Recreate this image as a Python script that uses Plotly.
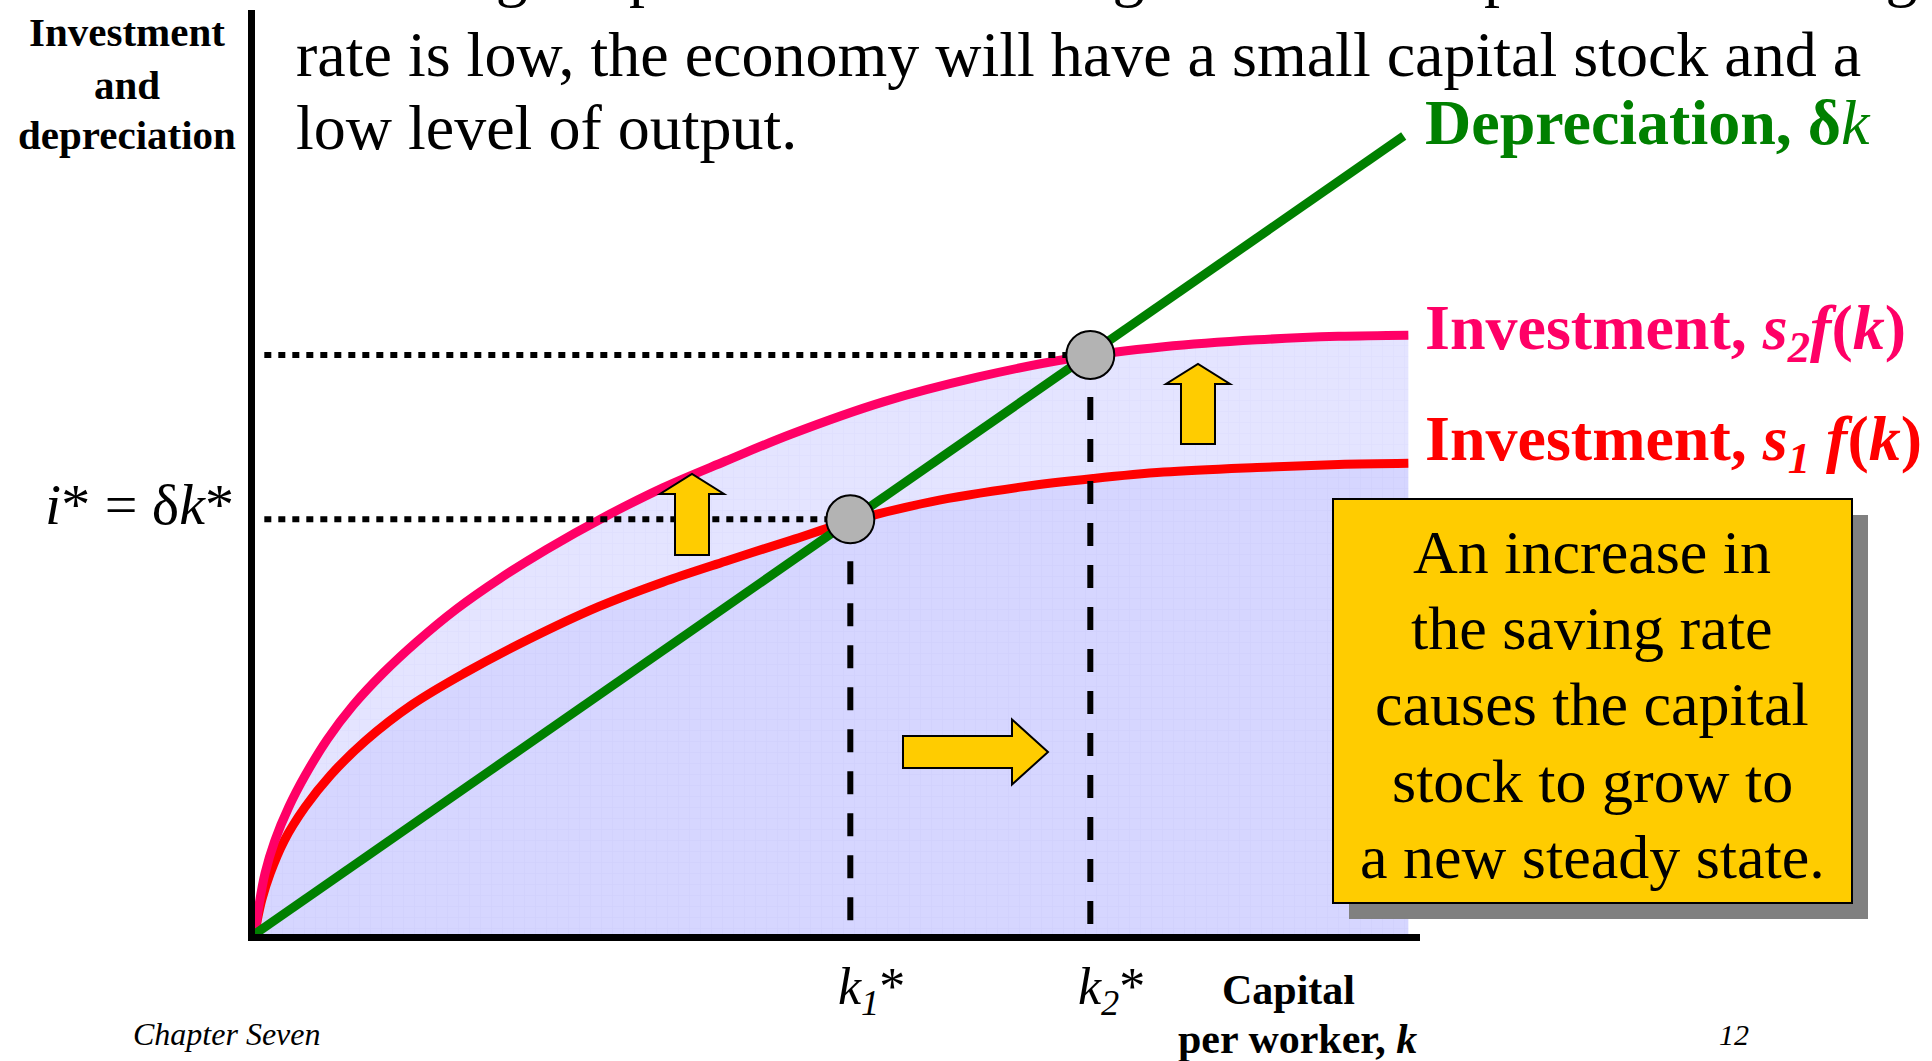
"""
Solow model slide: an increase in the saving rate raises the steady state
capital stock from k1* to k2*.
"""

import plotly.graph_objects as go

W, H = 1932, 1061
SERIF = "Liberation Serif"

# investment curves (axis units, k along x)
k_s1 = [0, 0.02, 0.06, 0.13, 0.25, 0.43, 0.65, 0.95, 1.35, 1.8, 2.35, 2.95, 3.5, 4.04, 4.6, 5.1, 5.8, 6.6, 7.2, 7.8, 8.6, 9.3, 9.9]
inv_s1 = [0, 0.12, 0.30, 0.52, 0.80, 1.09, 1.365, 1.66, 1.97, 2.24, 2.53, 2.81, 3.02, 3.20, 3.38, 3.54, 3.71, 3.84, 3.91, 3.965, 4.005, 4.03, 4.04]

k_s2 = [0, 0.03, 0.086, 0.17, 0.29, 0.43, 0.62, 0.84, 1.10, 1.39, 1.73, 2.10, 2.50, 3.0, 3.5, 4.04, 4.6, 5.4, 6.2, 7.0, 7.8, 8.6, 9.3, 9.9]
inv_s2 = [0, 0.22, 0.52, 0.80, 1.09, 1.36, 1.67, 1.96, 2.24, 2.51, 2.79, 3.05, 3.30, 3.58, 3.83, 4.06, 4.29, 4.57, 4.78, 4.94, 5.04, 5.10, 5.13, 5.14]

# depreciation line
k_dep = [0, 9.86]
dep = [0, 6.85]

# steady states
k_star = [5.11, 7.17]
i_star = [3.56, 4.97]
k_star_labels = ["<i>k<sub>1</sub></i>*", "<i>k<sub>2</sub></i>*"]

title_lines = [
    "a large capital stock and a high level of output. If the saving",
    "rate is low, the economy will have a small capital stock and a",
    "low level of output.",
]
box_lines = [
    "An increase in",
    "the saving rate",
    "causes the capital",
    "stock to grow to",
    "a new steady state.",
]


# pixel -> paper helpers for the slide decorations
def px(x):
    return x / W


def py(y):
    return 1 - y / H


def add_text(fig, x, base, text, size, color="black", anchor="left"):
    # base is the baseline in pixels, Liberation Serif ascent ~0.891 em
    fig.add_annotation(
        x=px(x), y=py(base - 0.891 * size),
        xref="paper", yref="paper",
        text=text, showarrow=False,
        xanchor=anchor, yanchor="top",
        borderpad=0, borderwidth=0,
        font=dict(family=SERIF, size=size, color=color),
    )


def block_arrow(fig, tail, tip, shaft, head, head_len):
    # yellow block arrow from tail to tip, pixel coordinates
    dx, dy = tip[0] - tail[0], tip[1] - tail[1]
    length = (dx ** 2 + dy ** 2) ** 0.5
    ux, uy = dx / length, dy / length
    nx, ny = -uy, ux
    neck = (tip[0] - ux * head_len, tip[1] - uy * head_len)
    pts = [
        (tail[0] + nx * shaft / 2, tail[1] + ny * shaft / 2),
        (neck[0] + nx * shaft / 2, neck[1] + ny * shaft / 2),
        (neck[0] + nx * head / 2, neck[1] + ny * head / 2),
        tip,
        (neck[0] - nx * head / 2, neck[1] - ny * head / 2),
        (neck[0] - nx * shaft / 2, neck[1] - ny * shaft / 2),
        (tail[0] - nx * shaft / 2, tail[1] - ny * shaft / 2),
    ]
    path = "M " + " L ".join(f"{px(a):.5f},{py(b):.5f}" for a, b in pts) + " Z"
    fig.add_shape(
        type="path", path=path, xref="paper", yref="paper",
        fillcolor="#ffcc00", line=dict(color="black", width=2), layer="above",
    )


fig = go.Figure()

# shaded areas under the investment curves
fig.add_trace(go.Scatter(
    x=k_s1, y=inv_s1, mode="lines", fill="tozeroy",
    line=dict(width=0, shape="spline"),
    fillcolor="#d6d6ff",
    fillpattern=dict(shape="+", size=11, solidity=0.1, fgcolor="#c8c8f8", bgcolor="#d6d6ff"),
    hoverinfo="skip",
))
fig.add_trace(go.Scatter(
    x=k_s2, y=inv_s2, mode="lines", fill="tonexty",
    line=dict(width=0, shape="spline"),
    fillcolor="#e4e4ff",
    fillpattern=dict(shape="+", size=11, solidity=0.1, fgcolor="#d6d6fb", bgcolor="#e4e4ff"),
    hoverinfo="skip",
))

# curves
fig.add_trace(go.Scatter(x=k_s1, y=inv_s1, mode="lines",
                         line=dict(color="#ff0000", width=9, shape="spline")))
fig.add_trace(go.Scatter(x=k_s2, y=inv_s2, mode="lines",
                         line=dict(color="#ff0066", width=9, shape="spline")))
fig.add_trace(go.Scatter(x=k_dep, y=dep, mode="lines", line=dict(color="#008000", width=9)))

# guide lines to the axes
for k, i in zip(k_star, i_star):
    fig.add_trace(go.Scatter(
        x=[0.08, k], y=[i, i], mode="lines",
        line=dict(color="black", width=6, dash="7px,7px"),
    ))
    fig.add_trace(go.Scatter(
        x=[k, k], y=[i, 0], mode="lines",
        line=dict(color="black", width=6, dash="23px,19px"),
    ))

# steady state points
fig.add_trace(go.Scatter(
    x=k_star, y=i_star, mode="markers",
    marker=dict(size=48, color="#b3b3b3", line=dict(color="black", width=2)),
))

# arrows
block_arrow(fig, (692, 555), (692, 474), 34, 64, 20)
block_arrow(fig, (1198, 444), (1198, 364), 34, 64, 20)
block_arrow(fig, (903, 752), (1048, 752), 32, 65, 36)

# callout box with shadow
fig.add_shape(type="rect", xref="paper", yref="paper",
              x0=px(1349), x1=px(1868), y0=py(515), y1=py(919),
              fillcolor="#808080", line=dict(width=0), layer="above")
fig.add_shape(type="rect", xref="paper", yref="paper",
              x0=px(1333), x1=px(1852), y0=py(499), y1=py(903),
              fillcolor="#ffcc00", line=dict(color="black", width=2), layer="above")
for n, line in enumerate(box_lines):
    add_text(fig, 1592, 573 + 76.3 * n, line, 62, anchor="center")

# slide text, first line is cut by the top edge
add_text(fig, 385, -6, title_lines[0], 64)
add_text(fig, 296, 76, title_lines[1], 64)
add_text(fig, 296, 149, title_lines[2], 64)

add_text(fig, 127, 46, "<b>Investment</b>", 41, anchor="center")
add_text(fig, 127, 99, "<b>and</b>", 41, anchor="center")
add_text(fig, 127, 149, "<b>depreciation</b>", 41, anchor="center")

add_text(fig, 234, 524, "<i>i</i>* = δ<i>k</i>*", 58, anchor="right")

add_text(fig, 1425, 144, "<b>Depreciation, δ</b><i>k</i>", 64, color="#008000")
add_text(fig, 1425, 349, "<b>Investment, <i>s<sub>2</sub>f</i>(<i>k</i>)</b>", 64, color="#ff0066")
add_text(fig, 1425, 460, "<b>Investment, <i>s<sub>1</sub> f</i>(<i>k</i>)</b>", 64, color="#ff0000")

for k, label in zip(k_star, k_star_labels):
    fig.add_annotation(
        x=k, y=py(1004 - 0.891 * 52), xref="x", yref="paper",
        text=label, showarrow=False, xanchor="left", yanchor="top", xshift=-12,
        borderpad=0, borderwidth=0,
        font=dict(family=SERIF, size=52, color="black"),
    )

add_text(fig, 1288, 1004, "<b>Capital</b>", 42, anchor="center")
add_text(fig, 1297, 1053, "<b>per worker, <i>k</i></b>", 42, anchor="center")

add_text(fig, 133, 1045, "<i>Chapter Seven</i>", 32)
add_text(fig, 1719, 1045, "<i>12</i>", 30)

fig.update_layout(
    width=W,
    height=H,
    margin=dict(l=0, r=0, t=0, b=0),
    paper_bgcolor="white",
    plot_bgcolor="white",
    showlegend=False,
    hovermode=False,
)

fig.update_xaxes(
    domain=[px(255), px(1420)],
    range=[0, 10],
    showline=True, linewidth=7, linecolor="black",
    showgrid=False, zeroline=False, showticklabels=False, ticks="",
)
fig.update_yaxes(
    domain=[py(934), py(10)],
    range=[0, 924 / 116.5],
    showline=True, linewidth=7, linecolor="black",
    showgrid=False, zeroline=False, showticklabels=False, ticks="",
)

fig.write_html(
    "out.html",
    config={"displayModeBar": False},
    post_script="document.body.style.margin = '0';",
)
